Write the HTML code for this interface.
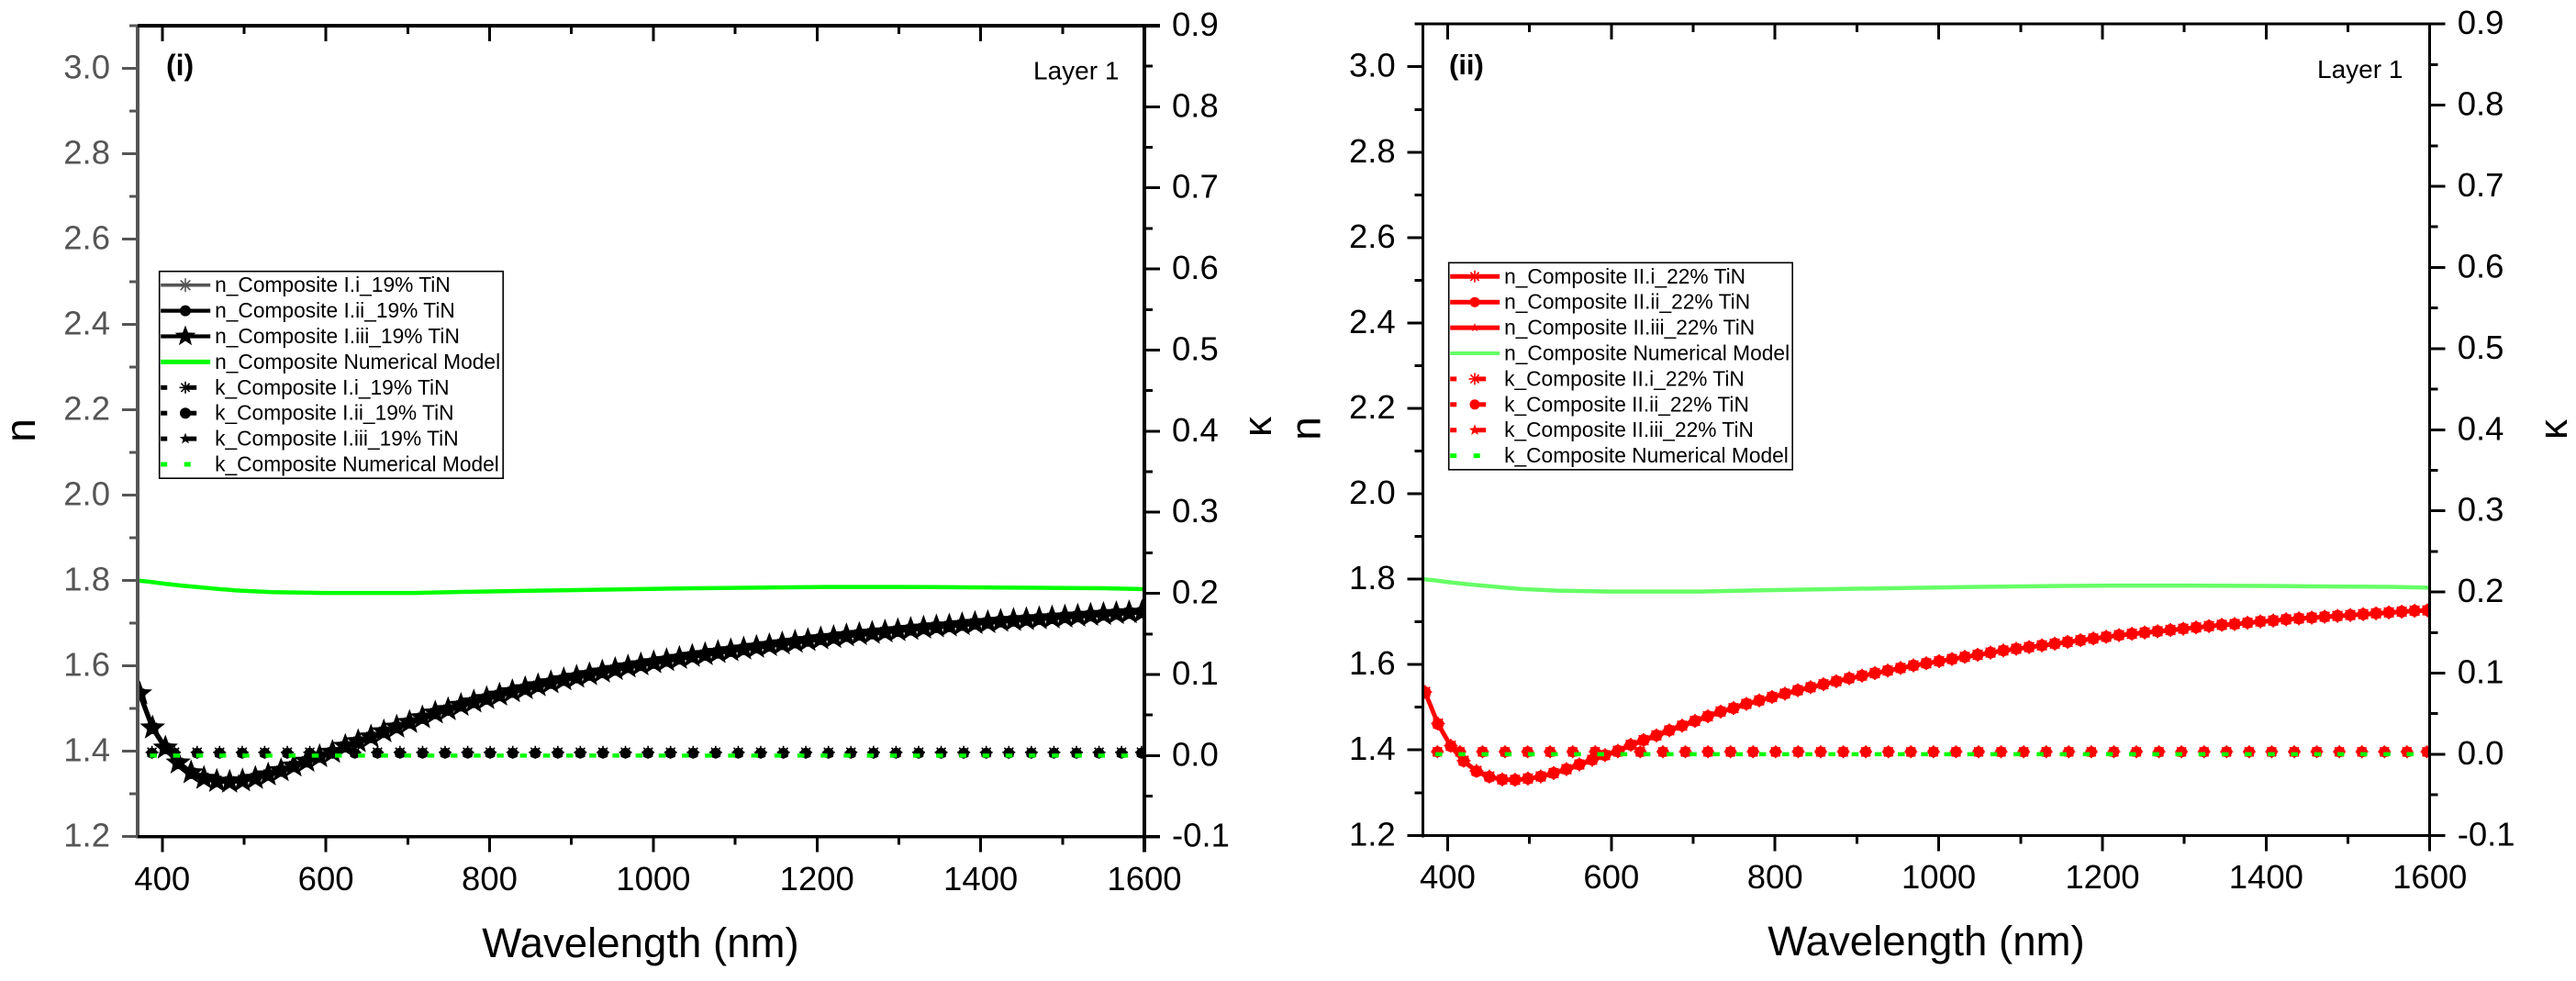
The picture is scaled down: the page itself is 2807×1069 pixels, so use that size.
<!DOCTYPE html>
<html lang="en">
<head>
<meta charset="utf-8">
<title>Refractive index and extinction coefficient of composites</title>
<style>
  html, body { margin: 0; padding: 0; background: #fff; }
  svg { display: block; }
  text { font-family: "Liberation Sans", sans-serif; fill: #000; }
</style>
</head>
<body>
<svg id="figure" xmlns="http://www.w3.org/2000/svg" width="2807" height="1069" viewBox="0 0 2807 1069"></svg>
<script>
// ---------- axis categories and tick labels ----------
const wavelengthTicks = [400, 600, 800, 1000, 1200, 1400, 1600];
const wavelengthMinorTicks = [500, 700, 900, 1100, 1300, 1500];
const nTicks = ['1.2', '1.4', '1.6', '1.8', '2.0', '2.2', '2.4', '2.6', '2.8', '3.0'];
const nMinorTicks = [1.3, 1.5, 1.7, 1.9, 2.1, 2.3, 2.5, 2.7, 2.9, 3.1];
const kTicks = ['-0.1', '0.0', '0.1', '0.2', '0.3', '0.4', '0.5', '0.6', '0.7', '0.8', '0.9'];
const kMinorTicks = [-0.05, 0.05, 0.15, 0.25, 0.35, 0.45, 0.55, 0.65, 0.75, 0.85];

// ---------- measured wavelengths ----------
const nWavelengths = [
  372.5,388.2,403.9,419.6,435.3,451,466.7,482.4,498.1,513.8,
  529.5,545.2,560.9,576.6,592.3,608,623.7,639.4,655.1,670.8,
  686.5,702.2,717.9,733.6,749.3,765,780.7,796.4,812.1,827.8,
  843.5,859.2,874.9,890.6,906.3,922,937.7,953.4,969.1,984.8,
  1000.5,1016.2,1031.9,1047.6,1063.3,1079,1094.7,1110.4,1126.1,1141.8,
  1157.5,1173.2,1188.9,1204.6,1220.3,1236,1251.7,1267.4,1283.1,1298.8,
  1314.5,1330.2,1345.9,1361.6,1377.3,1393,1408.7,1424.4,1440.1,1455.8,
  1471.5,1487.2,1502.9,1518.6,1534.3,1550,1565.7,1581.4,1597.1,1600];
const kWavelengths = [
  387.5,415,442.6,470.1,497.7,525.2,552.8,580.3,607.9,635.4,
  663,690.5,718.1,745.6,773.2,800.7,828.3,855.8,883.4,910.9,
  938.5,966,993.6,1021.1,1048.7,1076.2,1103.8,1131.3,1158.9,1186.4,
  1214,1241.5,1269.1,1296.6,1324.2,1351.7,1379.3,1406.8,1434.4,1461.9,
  1489.5,1517,1544.6,1572.1,1596.5];

// ---------- panel (i) series ----------
const nCompositeIi = [
  1.536,1.456,1.409,1.374,1.351,1.339,1.332,1.331,1.334,1.339,
  1.347,1.356,1.367,1.378,1.389,1.399,1.413,1.424,1.435,1.447,
  1.458,1.469,1.480,1.491,1.499,1.509,1.517,1.525,1.533,1.541,
  1.548,1.555,1.562,1.569,1.575,1.581,1.587,1.593,1.599,1.604,
  1.609,1.614,1.619,1.624,1.628,1.633,1.637,1.641,1.645,1.649,
  1.653,1.657,1.661,1.665,1.668,1.672,1.675,1.678,1.681,1.684,
  1.687,1.690,1.693,1.695,1.698,1.701,1.703,1.706,1.708,1.710,
  1.712,1.714,1.716,1.718,1.720,1.722,1.724,1.726,1.727,1.728];
const nCompositeIii = [
  1.534,1.454,1.407,1.372,1.349,1.337,1.330,1.329,1.332,1.337,
  1.345,1.354,1.365,1.376,1.387,1.397,1.411,1.422,1.433,1.445,
  1.456,1.467,1.478,1.489,1.497,1.507,1.515,1.523,1.531,1.539,
  1.546,1.553,1.560,1.567,1.573,1.579,1.585,1.591,1.597,1.602,
  1.607,1.612,1.617,1.622,1.626,1.631,1.635,1.639,1.643,1.647,
  1.651,1.655,1.659,1.663,1.666,1.670,1.673,1.676,1.679,1.682,
  1.685,1.688,1.691,1.693,1.696,1.699,1.701,1.704,1.706,1.708,
  1.710,1.712,1.714,1.716,1.718,1.720,1.722,1.724,1.726,1.727];
const nCompositeIiii = [
  1.535,1.455,1.408,1.373,1.350,1.337,1.330,1.328,1.331,1.337,
  1.345,1.355,1.366,1.377,1.388,1.398,1.412,1.423,1.434,1.446,
  1.457,1.468,1.479,1.490,1.498,1.508,1.516,1.524,1.532,1.540,
  1.547,1.554,1.561,1.568,1.574,1.580,1.586,1.592,1.598,1.603,
  1.608,1.613,1.618,1.623,1.627,1.632,1.636,1.640,1.644,1.648,
  1.652,1.656,1.660,1.664,1.667,1.671,1.674,1.677,1.680,1.683,
  1.686,1.689,1.692,1.694,1.697,1.700,1.702,1.705,1.707,1.709,
  1.711,1.713,1.715,1.717,1.719,1.721,1.723,1.725,1.726,1.727];
const kCompositeIi = [
  0.004,0.004,0.004,0.004,0.004,0.004,0.004,0.004,0.004,0.004,
  0.004,0.004,0.004,0.004,0.004,0.004,0.004,0.004,0.004,0.004,
  0.004,0.004,0.004,0.004,0.004,0.004,0.004,0.004,0.004,0.004,
  0.004,0.004,0.004,0.004,0.004,0.004,0.004,0.004,0.004,0.004,
  0.004,0.004,0.004,0.004,0.004];
const kCompositeIii = [
  0.003,0.003,0.003,0.003,0.003,0.003,0.003,0.003,0.003,0.003,
  0.003,0.003,0.003,0.003,0.003,0.003,0.003,0.003,0.003,0.003,
  0.003,0.003,0.003,0.003,0.003,0.003,0.003,0.003,0.003,0.003,
  0.003,0.003,0.003,0.003,0.003,0.003,0.003,0.003,0.003,0.003,
  0.003,0.003,0.003,0.003,0.003];
const kCompositeIiii = [
  0.003,0.003,0.003,0.003,0.003,0.003,0.003,0.003,0.003,0.003,
  0.003,0.003,0.003,0.003,0.003,0.003,0.003,0.003,0.003,0.003,
  0.003,0.003,0.003,0.003,0.003,0.003,0.003,0.003,0.003,0.003,
  0.003,0.003,0.003,0.003,0.003,0.003,0.003,0.003,0.003,0.003,
  0.003,0.003,0.003,0.003,0.003];

// ---------- panel (ii) series ----------
const nCompositeIIi = [
  1.536,1.462,1.410,1.375,1.351,1.338,1.331,1.330,1.333,1.338,
  1.346,1.355,1.366,1.377,1.388,1.398,1.412,1.423,1.434,1.446,
  1.457,1.468,1.479,1.490,1.498,1.508,1.516,1.524,1.532,1.540,
  1.547,1.554,1.561,1.568,1.574,1.580,1.586,1.592,1.598,1.603,
  1.608,1.613,1.618,1.623,1.628,1.633,1.637,1.641,1.645,1.649,
  1.653,1.657,1.661,1.665,1.669,1.672,1.675,1.678,1.681,1.684,
  1.687,1.690,1.693,1.695,1.698,1.701,1.703,1.706,1.708,1.710,
  1.712,1.714,1.716,1.718,1.720,1.722,1.724,1.726,1.727,1.728];
const nCompositeIIii = [
  1.535,1.461,1.409,1.374,1.350,1.337,1.331,1.330,1.333,1.338,
  1.346,1.355,1.366,1.377,1.388,1.398,1.412,1.423,1.434,1.446,
  1.457,1.468,1.479,1.490,1.498,1.508,1.516,1.524,1.532,1.540,
  1.547,1.554,1.561,1.568,1.574,1.580,1.586,1.592,1.598,1.603,
  1.608,1.613,1.618,1.623,1.628,1.633,1.637,1.641,1.645,1.649,
  1.653,1.657,1.661,1.665,1.669,1.672,1.675,1.678,1.681,1.684,
  1.687,1.690,1.693,1.695,1.698,1.701,1.703,1.706,1.708,1.710,
  1.712,1.714,1.716,1.718,1.720,1.722,1.724,1.726,1.727,1.728];
const nCompositeIIiii = [
  1.534,1.460,1.408,1.373,1.349,1.337,1.330,1.329,1.332,1.337,
  1.345,1.354,1.365,1.376,1.387,1.397,1.411,1.422,1.433,1.445,
  1.456,1.467,1.478,1.489,1.497,1.507,1.515,1.523,1.531,1.539,
  1.546,1.553,1.560,1.567,1.573,1.579,1.585,1.591,1.597,1.602,
  1.607,1.612,1.617,1.622,1.627,1.632,1.636,1.640,1.644,1.648,
  1.652,1.656,1.660,1.664,1.668,1.671,1.674,1.677,1.680,1.683,
  1.686,1.689,1.692,1.694,1.697,1.700,1.702,1.705,1.707,1.709,
  1.711,1.713,1.715,1.717,1.719,1.721,1.723,1.725,1.726,1.727];
const kCompositeIIi = [
  0.003,0.003,0.003,0.003,0.003,0.003,0.003,0.003,0.003,0.003,
  0.003,0.003,0.003,0.003,0.003,0.003,0.003,0.003,0.003,0.003,
  0.003,0.003,0.003,0.003,0.003,0.003,0.003,0.003,0.003,0.003,
  0.003,0.003,0.003,0.003,0.003,0.003,0.003,0.003,0.003,0.003,
  0.003,0.003,0.003,0.003,0.003];
const kCompositeIIii = [
  0.003,0.003,0.003,0.003,0.003,0.003,0.003,0.003,0.003,0.003,
  0.003,0.003,0.003,0.003,0.003,0.003,0.003,0.003,0.003,0.003,
  0.003,0.003,0.003,0.003,0.003,0.003,0.003,0.003,0.003,0.003,
  0.003,0.003,0.003,0.003,0.003,0.003,0.003,0.003,0.003,0.003,
  0.003,0.003,0.003,0.003,0.003];
const kCompositeIIiii = [
  0.003,0.003,0.003,0.003,0.003,0.003,0.003,0.003,0.003,0.003,
  0.003,0.003,0.003,0.003,0.003,0.003,0.003,0.003,0.003,0.003,
  0.003,0.003,0.003,0.003,0.003,0.003,0.003,0.003,0.003,0.003,
  0.003,0.003,0.003,0.003,0.003,0.003,0.003,0.003,0.003,0.003,
  0.003,0.003,0.003,0.003,0.003];

// ---------- numerical model (same in both panels) ----------
const modelWavelengths = [370, 385, 401, 425, 448, 470, 490, 534, 597, 650, 709, 783, 850, 950, 1050, 1150, 1210, 1300, 1400, 1465, 1550, 1600];
const nModel = [1.800, 1.797, 1.793, 1.788, 1.784, 1.780, 1.777, 1.773, 1.771, 1.771, 1.771, 1.774, 1.776, 1.779, 1.782, 1.784, 1.785, 1.785, 1.784, 1.783, 1.782, 1.780];
const kModelWavelengths = [385, 700, 1000, 1300, 1582];
const kModel = [0.000, 0.000, 0.000, 0.000, 0.000];

// ---------- legend labels ----------
const legendLabelsI = ['n_Composite I.i_19% TiN', 'n_Composite I.ii_19% TiN', 'n_Composite I.iii_19% TiN', 'n_Composite Numerical Model', 'k_Composite I.i_19% TiN', 'k_Composite I.ii_19% TiN', 'k_Composite I.iii_19% TiN', 'k_Composite Numerical Model'];
const legendLabelsII = ['n_Composite II.i_22% TiN', 'n_Composite II.ii_22% TiN', 'n_Composite II.iii_22% TiN', 'n_Composite Numerical Model', 'k_Composite II.i_22% TiN', 'k_Composite II.ii_22% TiN', 'k_Composite II.iii_22% TiN', 'k_Composite Numerical Model'];

const figure = document.getElementById('figure');
const NS = 'http://www.w3.org/2000/svg';
const X_MIN = 370, X_MAX = 1600, N_MIN = 1.2, N_MAX = 3.1, K_MIN = -0.1, K_MAX = 0.9;

function make(tag, parent, attrs) {
  const node = document.createElementNS(NS, tag);
  for (const key in attrs) node.setAttribute(key, attrs[key]);
  parent.appendChild(node);
  return node;
}
function asteriskPath(x, y, r) {
  const d = r * 0.707;
  return 'M' + (x - r) + ' ' + y + 'H' + (x + r) + 'M' + x + ' ' + (y - r) + 'V' + (y + r) +
    'M' + (x - d) + ' ' + (y - d) + 'L' + (x + d) + ' ' + (y + d) +
    'M' + (x - d) + ' ' + (y + d) + 'L' + (x + d) + ' ' + (y - d);
}
function starPath(x, y, r) {
  let d = '';
  for (let i = 0; i < 10; i++) {
    const rad = i % 2 === 0 ? r : r * 0.42;
    const a = -Math.PI / 2 + i * Math.PI / 5;
    d += (i === 0 ? 'M' : 'L') + (x + rad * Math.cos(a)).toFixed(2) + ' ' + (y + rad * Math.sin(a)).toFixed(2);
  }
  return d + 'Z';
}
function drawMarker(parent, shape, x, y, r, color) {
  let node;
  if (shape === 'circle') {
    node = make('circle', parent, { cx: x, cy: y, r: r, fill: color });
  } else if (shape === 'star') {
    node = make('path', parent, { d: starPath(x, y, r), fill: color });
  } else {
    node = make('path', parent, { d: asteriskPath(x, y, r), fill: 'none', stroke: color, 'stroke-width': 1.6 });
  }
  return node;
}
function linePoints(xs, ys, xScale, yScale) {
  return xs.map(function (w, i) { return xScale(w).toFixed(2) + ',' + yScale(ys[i]).toFixed(2); }).join(' ');
}

function drawPanel(p) {
  const xScale = function (w) { return p.x0 + (w - X_MIN) / (X_MAX - X_MIN) * (p.x1 - p.x0); };
  const yN = function (n) { return p.yb - (n - N_MIN) / (N_MAX - N_MIN) * (p.yb - p.yt); };
  const yK = function (k) { return p.yb - (k - K_MIN) / (K_MAX - K_MIN) * (p.yb - p.yt); };

  const panel = make('g', figure, {});
  
  

  const clip = make('clipPath', panel, { id: p.id + '-clip' });
  make('rect', clip, { x: p.x0, y: p.yt, width: p.x1 - p.x0, height: p.yb - p.yt });

  const plot = make('g', panel, { 'clip-path': 'url(#' + p.id + '-clip)' });
  
  

  // numerical model n line
  const modelLine = make('polyline', plot, { points: linePoints(modelWavelengths, nModel, xScale, yN), fill: 'none', stroke: p.modelColor, 'stroke-width': 4.5 });
  
  

  // n series
  p.nSeries.forEach(function (s) {
    const g = make('g', plot, {});
    
    
    const line = make('polyline', g, { points: linePoints(nWavelengths, s.values, xScale, yN), fill: 'none', stroke: s.color, 'stroke-width': p.curveWidth });
    
    
    s.values.forEach(function (v, i) {
      if (nWavelengths[i] === X_MAX) return;
      const m = drawMarker(g, s.shape, xScale(nWavelengths[i]), yN(v), s.size, s.color);
      
      
    });
  });

  // k series
  p.kSeries.forEach(function (s) {
    const g = make('g', plot, {});
    
    
    s.values.forEach(function (v, i) {
      const m = drawMarker(g, s.shape, xScale(kWavelengths[i]), yK(v), s.size, s.color);
      
      
    });
  });

  // numerical model k line
  const kLine = make('polyline', plot, { points: linePoints(kModelWavelengths, kModel, xScale, yK), fill: 'none', stroke: '#00ff00', 'stroke-width': 4.5, 'stroke-dasharray': '7.5 17.7' });
  
  

  // axes
  const axes = make('g', panel, { stroke: '#000', 'stroke-width': p.tickWidth, 'shape-rendering': 'crispEdges' });
  
  

  wavelengthTicks.forEach(function (w) {
    const x = xScale(w);
    const bottomTick = make('line', axes, { x1: x, x2: x, y1: p.yb, y2: p.yb + 17 });
    
    
    const topTick = make('line', axes, { x1: x, x2: x, y1: p.yt, y2: p.yt + 17 });
    
    
    const label = make('text', panel, { x: x, y: p.xLabelY, 'font-size': 36.5, 'text-anchor': 'middle' });
    label.textContent = w;
    
    
  });
  wavelengthMinorTicks.forEach(function (w) {
    const x = xScale(w);
    const bottomTick = make('line', axes, { x1: x, x2: x, y1: p.yb, y2: p.yb + 9 });
    
    
    const topTick = make('line', axes, { x1: x, x2: x, y1: p.yt, y2: p.yt + 9 });
    
    
  });

  const nAxisGroup = make('g', axes, { stroke: p.leftColor });
  
  
  nTicks.forEach(function (t) {
    const y = yN(parseFloat(t));
    const tick = make('line', nAxisGroup, { x1: p.x0 - 17, x2: p.x0, y1: y, y2: y });
    
    
    const label = make('text', panel, { x: p.x0 - 30, y: y + 11, 'font-size': 36.5, 'text-anchor': 'end', style: 'fill:' + p.leftColor });
    label.textContent = t;
    
    
  });
  nMinorTicks.forEach(function (t) {
    const y = yN(t);
    const tick = make('line', nAxisGroup, { x1: p.x0 - 9, x2: p.x0, y1: y, y2: y });
    
    
  });

  kTicks.forEach(function (t) {
    const y = yK(parseFloat(t));
    const tick = make('line', axes, { x1: p.x1, x2: p.x1 + 17, y1: y, y2: y });
    
    
    const label = make('text', panel, { x: p.x1 + 30, y: y + 11, 'font-size': 36.5 });
    label.textContent = t;
    
    
  });
  kMinorTicks.forEach(function (t) {
    const y = yK(t);
    const tick = make('line', axes, { x1: p.x1, x2: p.x1 + 9, y1: y, y2: y });
    
    
  });

  // frame
  const topAxis = make('line', axes, { x1: p.x0, x2: p.x1 + 17, y1: p.yt, y2: p.yt, 'stroke-width': p.axisWidth });
  
  
  const bottomAxis = make('line', axes, { x1: p.x0, x2: p.x1 + 17, y1: p.yb, y2: p.yb, 'stroke-width': p.axisWidth });
  
  
  const rightAxis = make('line', axes, { x1: p.x1, x2: p.x1, y1: p.yt, y2: p.yb + 17, 'stroke-width': p.axisWidth });
  
  
  const leftAxis = make('line', nAxisGroup, { x1: p.x0, x2: p.x0, y1: p.yt, y2: p.yb + 2, 'stroke-width': p.axisWidth });
  
  

  // titles
  const xTitle = make('text', panel, { x: p.xTitleX, y: p.xTitleY, 'font-size': 45.6, 'text-anchor': 'middle' });
  xTitle.textContent = 'Wavelength (nm)';
  
  
  const nTitle = make('text', panel, { transform: 'translate(' + (p.x0 - 112) + ',' + p.nTitleY + ') rotate(-90)', 'font-size': 46, 'text-anchor': 'middle' });
  nTitle.textContent = 'n';
  
  
  const kTitle = make('text', panel, { transform: 'translate(' + p.kTitleX + ',' + p.kTitleY + ') rotate(-90)', 'font-size': 44, 'text-anchor': 'middle' });
  kTitle.textContent = 'κ';
  
  

  const tag = make('text', panel, { x: p.tagX, y: p.tagY, 'font-size': p.tagSize, 'font-weight': 'bold' });
  tag.textContent = p.tag;
  
  
  const layer = make('text', panel, { x: p.layerX, y: p.layerY, 'font-size': 28 });
  layer.textContent = 'Layer 1';
  
  

  // legend
  const legend = make('g', panel, {});
  
  
  const box = make('rect', legend, { x: p.legendX, y: p.legendY, width: 374.5, height: 225.5, fill: '#fff', stroke: '#000', 'stroke-width': 1.6 });
  
  
  p.legendLabels.forEach(function (text, i) {
    const rowY = p.legendY + 15 + i * 27.9;
    const lx = p.legendX;
    const row = make('g', legend, {});
    
    
    const style = p.legendRows[i];
    if (style.solid) {
      const sample = make('line', row, { x1: lx + 1.5, x2: lx + 55.5, y1: rowY, y2: rowY, stroke: style.color, 'stroke-width': style.width });
      
      
    } else {
      const dashA = make('line', row, { x1: lx + 1.5, x2: lx + 8.5, y1: rowY, y2: rowY, stroke: style.color, 'stroke-width': 5 });
      
      
      const dashB = make('line', row, { x1: lx + (style.shape ? 30 : 27), x2: lx + (style.shape ? 40.5 : 34), y1: rowY, y2: rowY, stroke: style.color, 'stroke-width': 5 });
      
      
    }
    if (style.shape) {
      const m = drawMarker(row, style.shape, lx + 28.3, rowY, style.size, style.color);
      
      
    }
    const label = make('text', row, { x: lx + 60.4, y: rowY + 7.5, 'font-size': 22.75 });
    label.textContent = text;
    
    
  });
}

drawPanel({
  id: 'panel-i', tag: '(i)', tagSize: 32, x0: 150, x1: 1247, yt: 28, yb: 911.7,
  axisWidth: 3.6, tickWidth: 3, leftColor: '#555555', modelColor: '#00ff00', curveWidth: 5,
  xLabelY: 970, xTitleX: 698, xTitleY: 1043, nTitleY: 469, kTitleX: 1385, kTitleY: 465,
  tagX: 181, tagY: 82, layerX: 1126, layerY: 86.7,
  legendX: 173.7, legendY: 295.7, legendLabels: legendLabelsI,
  legendRows: [
    { solid: true, color: '#555555', width: 3.6, shape: 'asterisk', size: 7.5 },
    { solid: true, color: '#000000', width: 4.2, shape: 'circle', size: 6 },
    { solid: true, color: '#000000', width: 4.2, shape: 'star', size: 12 },
    { solid: true, color: '#00ff00', width: 5 },
    { solid: false, color: '#000000', shape: 'asterisk', size: 6.5 },
    { solid: false, color: '#000000', shape: 'circle', size: 6 },
    { solid: false, color: '#000000', shape: 'star', size: 6.5 },
    { solid: false, color: '#00ff00' }
  ],
  nSeries: [
    { name: 'n-composite-i-i-series', values: nCompositeIi, color: '#222222', shape: 'asterisk', size: 7 },
    { name: 'n-composite-i-ii-series', values: nCompositeIii, color: '#000000', shape: 'circle', size: 6.5 },
    { name: 'n-composite-i-iii-series', values: nCompositeIiii, color: '#000000', shape: 'star', size: 14.5 }
  ],
  kSeries: [
    { name: 'k-composite-i-i-series', values: kCompositeIi, color: '#000000', shape: 'asterisk', size: 7 },
    { name: 'k-composite-i-ii-series', values: kCompositeIii, color: '#000000', shape: 'circle', size: 5.8 },
    { name: 'k-composite-i-iii-series', values: kCompositeIiii, color: '#000000', shape: 'star', size: 6.5 }
  ]
});

drawPanel({
  id: 'panel-ii', tag: '(ii)', tagSize: 31, x0: 1550.7, x1: 2647.7, yt: 26.2, yb: 910.3,
  axisWidth: 3, tickWidth: 3, leftColor: '#000000', modelColor: '#66ff66', curveWidth: 4.5,
  xLabelY: 968, xTitleX: 2099, xTitleY: 1041, nTitleY: 467, kTitleX: 2797, kTitleY: 468,
  tagX: 1579, tagY: 81, layerX: 2525, layerY: 85,
  legendX: 1578.7, legendY: 286.3, legendLabels: legendLabelsII,
  legendRows: [
    { solid: true, color: '#ff0000', width: 5, shape: 'asterisk', size: 6.5 },
    { solid: true, color: '#ff0000', width: 5, shape: 'circle', size: 5.5 },
    { solid: true, color: '#ff0000', width: 5, shape: 'star', size: 5 },
    { solid: true, color: '#66ff66', width: 4 },
    { solid: false, color: '#ff0000', shape: 'asterisk', size: 6.5 },
    { solid: false, color: '#ff0000', shape: 'circle', size: 5.5 },
    { solid: false, color: '#ff0000', shape: 'star', size: 6.5 },
    { solid: false, color: '#00ff00' }
  ],
  nSeries: [
    { name: 'n-composite-ii-i-series', values: nCompositeIIi, color: '#ff0000', shape: 'asterisk', size: 7.5 },
    { name: 'n-composite-ii-ii-series', values: nCompositeIIii, color: '#ff0000', shape: 'circle', size: 6.5 },
    { name: 'n-composite-ii-iii-series', values: nCompositeIIiii, color: '#ff0000', shape: 'star', size: 5 }
  ],
  kSeries: [
    { name: 'k-composite-ii-i-series', values: kCompositeIIi, color: '#ff0000', shape: 'asterisk', size: 7 },
    { name: 'k-composite-ii-ii-series', values: kCompositeIIii, color: '#ff0000', shape: 'circle', size: 6 },
    { name: 'k-composite-ii-iii-series', values: kCompositeIIiii, color: '#ff0000', shape: 'star', size: 7 }
  ]
});
</script>
</body>
</html>
